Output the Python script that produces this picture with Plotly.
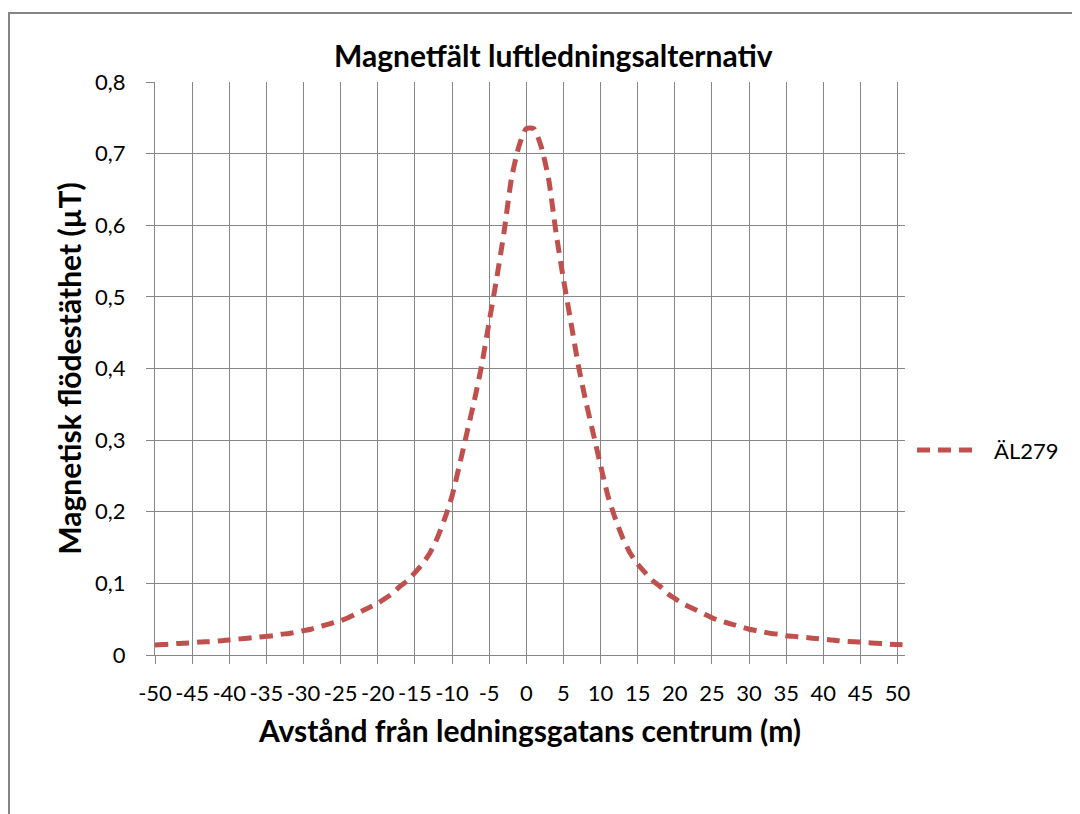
import plotly.graph_objects as go

# Distance from line corridor centre (m)
x_m = list(range(-50, 52))
# Magnetic flux density (µT)
b_uT = [
    0.014, 0.0145, 0.015, 0.016, 0.0165, 0.017, 0.018, 0.0185, 0.019, 0.020,   # -50..-41
    0.021, 0.022, 0.023, 0.024, 0.025, 0.026, 0.027, 0.029, 0.030, 0.032,      # -40..-31
    0.034, 0.036, 0.039, 0.042, 0.045, 0.048, 0.052, 0.057, 0.062, 0.067,      # -30..-21
    0.072, 0.079, 0.086, 0.096, 0.104, 0.115, 0.127, 0.142, 0.163, 0.19,       # -20..-11
    0.222, 0.265, 0.31, 0.355, 0.405, 0.465, 0.525, 0.59, 0.665, 0.71,         # -10..-1
    0.735, 0.735,                                                              # 0, 1
    0.71, 0.665, 0.59, 0.525, 0.465, 0.405, 0.355, 0.31, 0.265, 0.222,         # 2..11
    0.19, 0.163, 0.142, 0.127, 0.115, 0.104, 0.096, 0.086, 0.079, 0.072,       # 12..21
    0.067, 0.062, 0.057, 0.052, 0.048, 0.045, 0.042, 0.039, 0.036, 0.034,      # 22..31
    0.032, 0.030, 0.029, 0.027, 0.026, 0.025, 0.024, 0.023, 0.022, 0.021,      # 32..41
    0.020, 0.019, 0.0185, 0.018, 0.017, 0.0165, 0.016, 0.015, 0.0145, 0.014,   # 42..51
]
series_name = "ÄL279"
x_tick_vals = list(range(-50, 51, 5))
x_tick_text = [str(v) for v in x_tick_vals]
y_tick_vals = [0, 0.1, 0.2, 0.3, 0.4, 0.5, 0.6, 0.7, 0.8]
y_tick_text = ["0", "0,1", "0,2", "0,3", "0,4", "0,5", "0,6", "0,7", "0,8"]

title_text = "Magnetfält luftledningsalternativ"
x_title = "Avstånd från ledningsgatans centrum (m)"
y_title = "Magnetisk flödestäthet (µT)"

LINE_COLOR = "#C0504D"
GRID = "#868686"
FONT = "Lato"

# the page places the figure at an 8px body offset
OFF = 8
W, H = 1080, 814
L, R, T, B = 155 - OFF, 1080 - (905 - OFF), 82 - OFF, 814 - (655 - OFF)
PW, PH = W - L - R, H - T - B

def px_x(px):
    return (px - OFF - L) / PW

def px_y(py):
    return (H - B - (py - OFF)) / PH

fig = go.Figure()
fig.add_trace(go.Scatter(
    x=x_m, y=b_uT, mode="lines", name=series_name,
    line=dict(color=LINE_COLOR, width=5, dash="13px,8px", shape="spline", smoothing=0.6),
    showlegend=False,
))

axis_common = dict(
    showgrid=True, gridcolor=GRID, gridwidth=1.3,
    showline=True, linecolor=GRID, linewidth=1.3,
    ticks="outside", ticklen=8, tickcolor=GRID, tickwidth=1.3,
    zeroline=False,
    tickfont=dict(family=FONT, size=22, color="black"),
)

fig.update_xaxes(
    range=[-50, 51], tickmode="array", tickvals=x_tick_vals, ticktext=x_tick_text,
    tickangle=0, ticklabelstandoff=10,
    title=dict(text="<b>" + x_title + "</b>", font=dict(family=FONT, size=30, color="black"), standoff=16),
    **axis_common,
)
fig.update_yaxes(
    range=[0, 0.8], tickmode="array", tickvals=y_tick_vals, ticktext=y_tick_text,
    ticklabelstandoff=16,
    title=dict(text="<b>" + y_title + "</b>", font=dict(family=FONT, size=30, color="black"), standoff=4),
    **axis_common,
)

shapes = [
    # outer chart frame
    dict(type="rect", xref="paper", yref="paper",
         x0=px_x(9), x1=px_x(1110), y0=px_y(13), y1=px_y(850),
         line=dict(color=GRID, width=2), fillcolor="rgba(0,0,0,0)", layer="below"),
    # legend sample line
    dict(type="line", xref="paper", yref="paper",
         x0=px_x(917), x1=px_x(980), y0=px_y(450), y1=px_y(450),
         line=dict(color=LINE_COLOR, width=5, dash="13px,8px")),
]

annotations = [
    dict(text="<b>" + title_text + "</b>", xref="paper", yref="paper",
         x=px_x(553), y=px_y(55), xanchor="center", yanchor="middle", showarrow=False,
         font=dict(family=FONT, size=30, color="black")),
    dict(text=series_name, xref="paper", yref="paper",
         x=px_x(992), y=px_y(450), xanchor="left", yanchor="middle", showarrow=False,
         font=dict(family=FONT, size=22, color="black")),
]

fig.update_layout(
    width=W, height=H,
    margin=dict(l=L, r=R, t=T, b=B, autoexpand=False),
    paper_bgcolor="white", plot_bgcolor="white",
    separators=", ",
    shapes=shapes, annotations=annotations,
    showlegend=False,
)

fig.write_html("out.html")
